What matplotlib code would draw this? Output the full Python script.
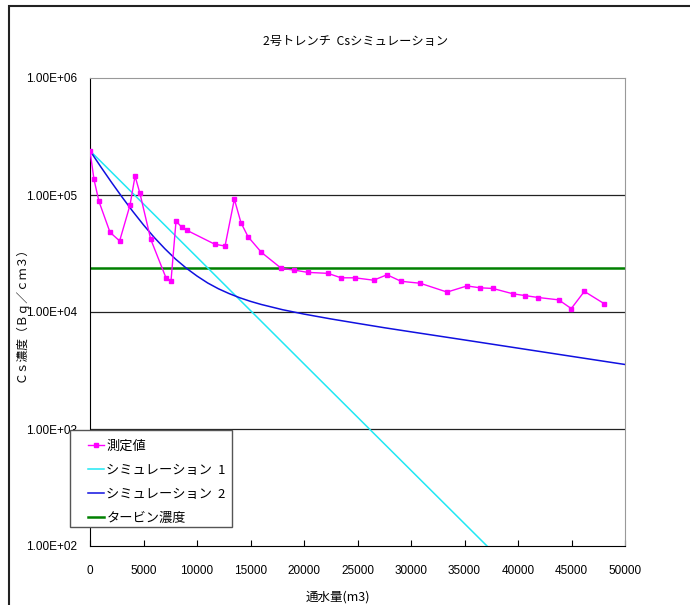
import matplotlib
matplotlib.use("Agg")
import matplotlib.pyplot as plt
from matplotlib.patches import Rectangle

plt.rcParams['font.family'] = ['Liberation Sans', 'Noto Sans CJK JP', 'DejaVu Sans']
JP = ['Noto Sans CJK JP', 'DejaVu Sans']

# measured values (通水量 m3, Bq/cm3)
meas_x = [0, 370, 840, 1870, 2770, 3740, 4210, 4670, 5670, 7100, 7570, 8040,
          8570, 9040, 11650, 12620, 13490, 14110, 14770, 16010, 17880, 19100,
          20370, 22240, 23460, 24750, 26500, 27760, 29070, 30870, 33370, 35230,
          36450, 37640, 39530, 40690, 41900, 43800, 44980, 46200, 48040]
meas_y = [2.39e5, 1.36e5, 8.8e4, 4.8e4, 4.05e4, 8.2e4, 1.45e5, 1.03e5, 4.2e4,
          1.96e4, 1.84e4, 6.0e4, 5.3e4, 5.0e4, 3.8e4, 3.66e4, 9.2e4, 5.8e4,
          4.4e4, 3.24e4, 2.36e4, 2.28e4, 2.18e4, 2.14e4, 1.96e4, 1.96e4, 1.87e4,
          2.08e4, 1.83e4, 1.76e4, 1.48e4, 1.67e4, 1.61e4, 1.59e4, 1.43e4,
          1.38e4, 1.33e4, 1.27e4, 1.07e4, 1.50e4, 1.18e4]

# simulation 1
sim1_x = [0, 10000, 20000, 30000, 40000]
sim1_y = [2.39e5, 2.94e4, 3.6e3, 4.43e2, 54.5]

# simulation 2
sim2_x = [0, 1000, 2000, 3000, 4000, 5000, 6000, 7000, 8000, 9000, 10000,
          11000, 12000, 13000, 14000, 15000, 16000, 18000, 20000, 22500,
          25000, 27500, 30000, 35000, 40000, 45000, 50000]
sim2_y = [2.39e5, 1.745e5, 1.287e5, 9.59e4, 7.24e4, 5.55e4, 4.34e4, 3.47e4,
          2.83e4, 2.37e4, 2.03e4, 1.77e4, 1.58e4, 1.437e4, 1.323e4, 1.233e4,
          1.16e4, 1.046e4, 9.6e3, 8.73e3, 8.0e3, 7.34e3, 6.77e3, 5.77e3,
          4.91e3, 4.18e3, 3.56e3]

turbine = 2.38e4

yticks = [1e2, 1e3, 1e4, 1e5, 1e6]
ytick_labels = ["1.00E+02", "1.00E+03", "1.00E+04", "1.00E+05", "1.00E+06"]
xticks = list(range(0, 50001, 5000))

fig = plt.figure(figsize=(6.9, 6.05), dpi=100)
ax = fig.add_axes([90 / 690, 1 - 546 / 605, 535 / 690, 468 / 605])

# outer chart frame (only left and top edges fall inside the picture)
fig.patches.append(Rectangle((9 / 690, -0.1), 1.2, 1.1 - 6 / 605,
                             transform=fig.transFigure, fill=False,
                             edgecolor="#222222", lw=1.5))

for y in [1e3, 1e4, 1e5]:
    ax.axhline(y, color="#222222", lw=0.9, zorder=1)

ax.plot(sim1_x, sim1_y, color="#20e8f4", lw=1.1, label="シミュレーション  1", zorder=3)
ax.plot(sim2_x, sim2_y, color="#1010e0", lw=1.1, label="シミュレーション  2", zorder=3)
ax.axhline(turbine, color="#008000", lw=1.8, label="タービン濃度", zorder=2)
ax.plot(meas_x, meas_y, color="#ff00ff", lw=1.0, marker="s", markersize=3.5,
        label="測定値", zorder=4)

ax.set_yscale("log")
ax.set_ylim(1e2, 1e6)
ax.set_xlim(0, 50000)
ax.minorticks_off()
ax.set_yticks(yticks, ytick_labels, fontsize=8.5)
ax.set_xticks(xticks, [str(t) for t in xticks], fontsize=8.5)
ax.tick_params(axis="y", length=0, pad=9)
ax.tick_params(axis="x", direction="in", length=4, pad=14)

for side in ["left", "bottom"]:
    ax.spines[side].set_color("black")
for side in ["top", "right"]:
    ax.spines[side].set_color("#999999")

fig.text(338 / 690, 1 - 597 / 605, "通水量(m3)", family=JP,
         ha="center", va="center", fontsize=9)
fig.text(21 / 690, 1 - 312 / 605, "Ｃｓ濃度（Ｂｑ／ｃｍ３）", family=JP,
         rotation=90, ha="center", va="center", fontsize=8.5)
fig.text(356 / 690, 1 - 41 / 605, "2号トレンチ  Csシミュレーション", family=JP,
         ha="center", va="center", fontsize=8.8)

# legend box drawn by hand so its padding matches the original
fig.patches.append(Rectangle((70 / 690, 1 - 527 / 605), 162 / 690, 97 / 605,
                             transform=fig.transFigure, facecolor="white",
                             edgecolor="#555555", lw=1.0, zorder=8))

handles, labels = ax.get_legend_handles_labels()
order = [3, 0, 1, 2]
leg = fig.legend([handles[i] for i in order], [labels[i] for i in order],
                 loc="upper left", bbox_to_anchor=(88 / 690, 1 - 440 / 605),
                 prop={"family": JP, "size": 9.5}, frameon=False,
                 borderaxespad=0, borderpad=0, handlelength=1.2,
                 handletextpad=0.2, labelspacing=0.83)
leg.set_zorder(10)

fig.savefig("out.png", dpi=100)
